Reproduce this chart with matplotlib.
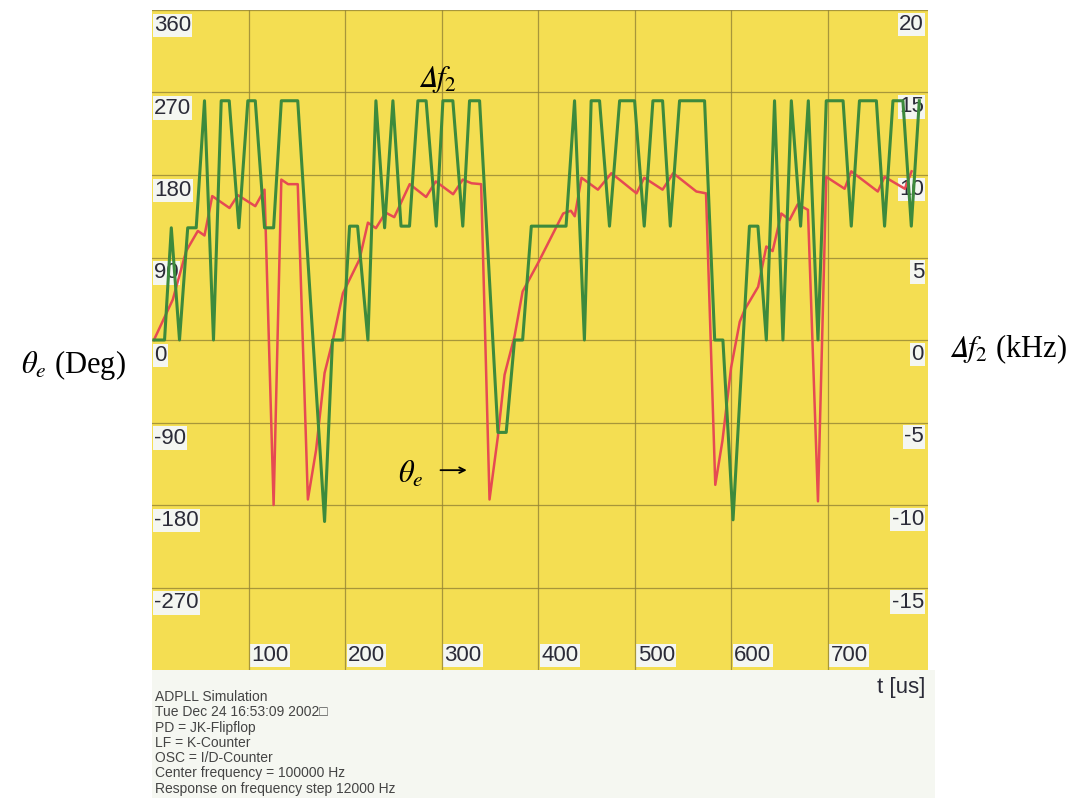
import matplotlib
matplotlib.use("Agg")
import matplotlib.pyplot as plt
from matplotlib.patches import Rectangle
from matplotlib.transforms import blended_transform_factory, offset_copy

plt.rcParams["mathtext.fontset"] = "stix"

# phase error theta_e (deg), left axis
theta_t = [2, 21.5, 35.4, 47.5, 54.4, 62.4, 80.3, 89, 107, 116.6, 126, 134, 141, 151,
           161.5, 170, 178.8, 187.4, 197.8, 215, 223.7, 232, 242, 251, 267, 284, 294,
           312, 322, 331, 341, 349.7, 358.4, 365.3, 375.6, 384, 400, 426, 434, 438, 445,
           462, 476, 502, 510, 529, 540, 564, 574, 583.6, 591, 600, 609, 614, 628, 636.5,
           643, 652, 660.6, 669, 679.6, 690, 698.6, 717.6, 724.5, 752, 759, 780, 787]
theta_deg = [0, 44, 97, 119, 114, 157, 144, 158, 146, 164, -180, 175, 170, 170,
             -174, -120, -36, 0, 51, 88, 128, 122, 139, 134, 170, 156, 173,
             159, 175, 171, 170, -174, -105, -38, 4, 53, 84, 138, 141, 135, 177,
             164, 182, 160, 177, 164, 182, 162, 160, -158, -110, -30, 20, 33, 58, 102,
             97, 138, 131, 148, 142, -176, 178, 165, 184, 162, 178, 165, 184]

# frequency deviation delta f2 (kHz), right axis
df_t = [2, 13, 20, 28.5, 37, 45.8, 54.4, 63.7, 71.7, 80, 90, 99.3, 107, 116.6, 126,
        134, 151, 178.8, 187, 197.8, 204.7, 213, 223.7, 232, 241, 249.6, 258, 266.8,
        275.5, 284, 294.5, 301.4, 311.7, 322, 329, 339.4, 358.4, 367, 375.6, 384, 393,
        429, 437.8, 448, 455, 463.7, 474, 484.5, 500, 510, 519, 529, 537, 546.6, 572.5,
        583, 591.5, 602, 619, 627.8, 636.5, 645, 653.7, 662.4, 672, 680, 690, 698.6,
        716, 724.5, 733, 750.5, 759, 767.7, 778, 786.7, 795]
df_khz = [0, 0, 6.8, 0, 6.8, 6.8, 14.5, 0, 14.5, 14.5, 6.8, 14.5, 14.5, 6.8, 6.8,
          14.5, 14.5, -11, 0, 0, 6.9, 6.9, 0, 14.5, 6.8, 14.5, 6.9, 6.9,
          14.5, 14.5, 6.9, 14.5, 14.5, 6.9, 14.5, 14.5, -5.6, -5.6, 0, 0, 6.9,
          6.9, 14.5, 0, 14.5, 14.5, 6.9, 14.5, 14.5, 6.9, 14.5, 14.5, 6.9, 14.5, 14.5,
          0, 0, -10.9, 6.9, 6.9, 0, 14.5, 0, 14.5, 6.9, 14.5, 0, 14.5,
          14.5, 6.9, 14.5, 14.5, 6.9, 14.5, 14.5, 6.9, 14.5]

deg_ticks = [-270, -180, -90, 0, 90, 180, 270, 360]
khz_ticks = [-15, -10, -5, 0, 5, 10, 15, 20]
t_ticks = [100, 200, 300, 400, 500, 600, 700]

info_lines = ["ADPLL Simulation",
              "Tue Dec 24 16:53:09 2002\u25a1",
              "PD = JK-Flipflop",
              "LF = K-Counter",
              "OSC = I/D-Counter",
              "Center frequency = 100000 Hz",
              "Response on frequency step 12000 Hz"]

W, H = 1085, 798
fig = plt.figure(figsize=(W / 100, H / 100), dpi=100)

# light panel under the plot
fig.patches.append(Rectangle((152 / W, 0), (935 - 152) / W, 128 / H,
                             transform=fig.transFigure, facecolor="#f5f7f1",
                             edgecolor="none", zorder=0))

ax = fig.add_axes([152 / W, 1 - 670 / H, 776 / W, 660 / H])
ax.set_facecolor("#f4de52")
ax.set_xlim(0, 804)
ax.set_ylim(-360, 360)
ax.set_xticks(t_ticks)
ax.set_yticks(deg_ticks)
ax.grid(True, color="#948434", lw=0.9, alpha=0.8)
ax.tick_params(length=0, labelbottom=False, labelleft=False)
for s in ax.spines.values():
    s.set_visible(False)

ax2 = ax.twinx()
ax2.set_ylim(-20, 20)
ax2.set_yticks([])
for s in ax2.spines.values():
    s.set_visible(False)

lab_kw = dict(fontsize=16, family="Liberation Sans", color="#2b2b38", zorder=1,
              bbox=dict(facecolor="#f4f6f1", edgecolor="none", pad=1.0))

# left tick labels (inside, below the grid line)
tr = offset_copy(ax.get_yaxis_transform(), fig=fig, x=2, y=-5, units="dots")
for v in deg_ticks:
    ax.text(0, v, str(v), transform=tr, ha="left", va="top", **lab_kw)

# right tick labels, drawn under the lines
tr = offset_copy(blended_transform_factory(ax.transAxes, ax2.transData),
                 fig=fig, x=-4, y=-4, units="dots")
for v in khz_ticks:
    ax.text(1, v, str(v), transform=tr, ha="right", va="top", **lab_kw)

# bottom tick labels
tr = offset_copy(ax.get_xaxis_transform(), fig=fig, x=3, y=4, units="dots")
for v in t_ticks:
    ax.text(v, 0, str(v), transform=tr, ha="left", va="bottom", **lab_kw)

ax.plot(theta_t, theta_deg, color="#e64a52", lw=1.8, zorder=3)
ax2.plot(df_t, df_khz, color="#3d8a3c", lw=2.2)

# annotations
dlt = "$\U0001D6E5f_2$"
ax2.text(296, 284, dlt, transform=ax.transData,
         fontsize=22, ha="center", va="center")
ax2.text(268, -146, r"$\theta_e$", transform=ax.transData,
         fontsize=22, ha="center", va="center")
ax2.annotate("", xy=(329, -142), xytext=(296, -142), xycoords=ax.transData,
             textcoords=ax.transData,
             arrowprops=dict(arrowstyle="->", color="black", lw=1.3))

# axis titles outside
fig.text(73 / W, 1 - 373 / H, r"$\theta_e$ (Deg)", fontsize=22,
         family="Liberation Serif", ha="center", va="baseline")
fig.text(1008 / W, 1 - 357 / H, dlt + " (kHz)", fontsize=22,
         family="Liberation Serif", ha="center", va="baseline")
fig.text(925 / W, 1 - 693 / H, "t [us]", fontsize=16, family="Liberation Sans",
         color="#2b2b38", ha="right", va="baseline")

for i, line in enumerate(info_lines):
    fig.text(155 / W, 1 - (701 + i * 15.3) / H, line, fontsize=10,
             family=["Liberation Sans", "DejaVu Sans"], color="#444444",
             ha="left", va="baseline")

fig.savefig("out.png", dpi=100)
